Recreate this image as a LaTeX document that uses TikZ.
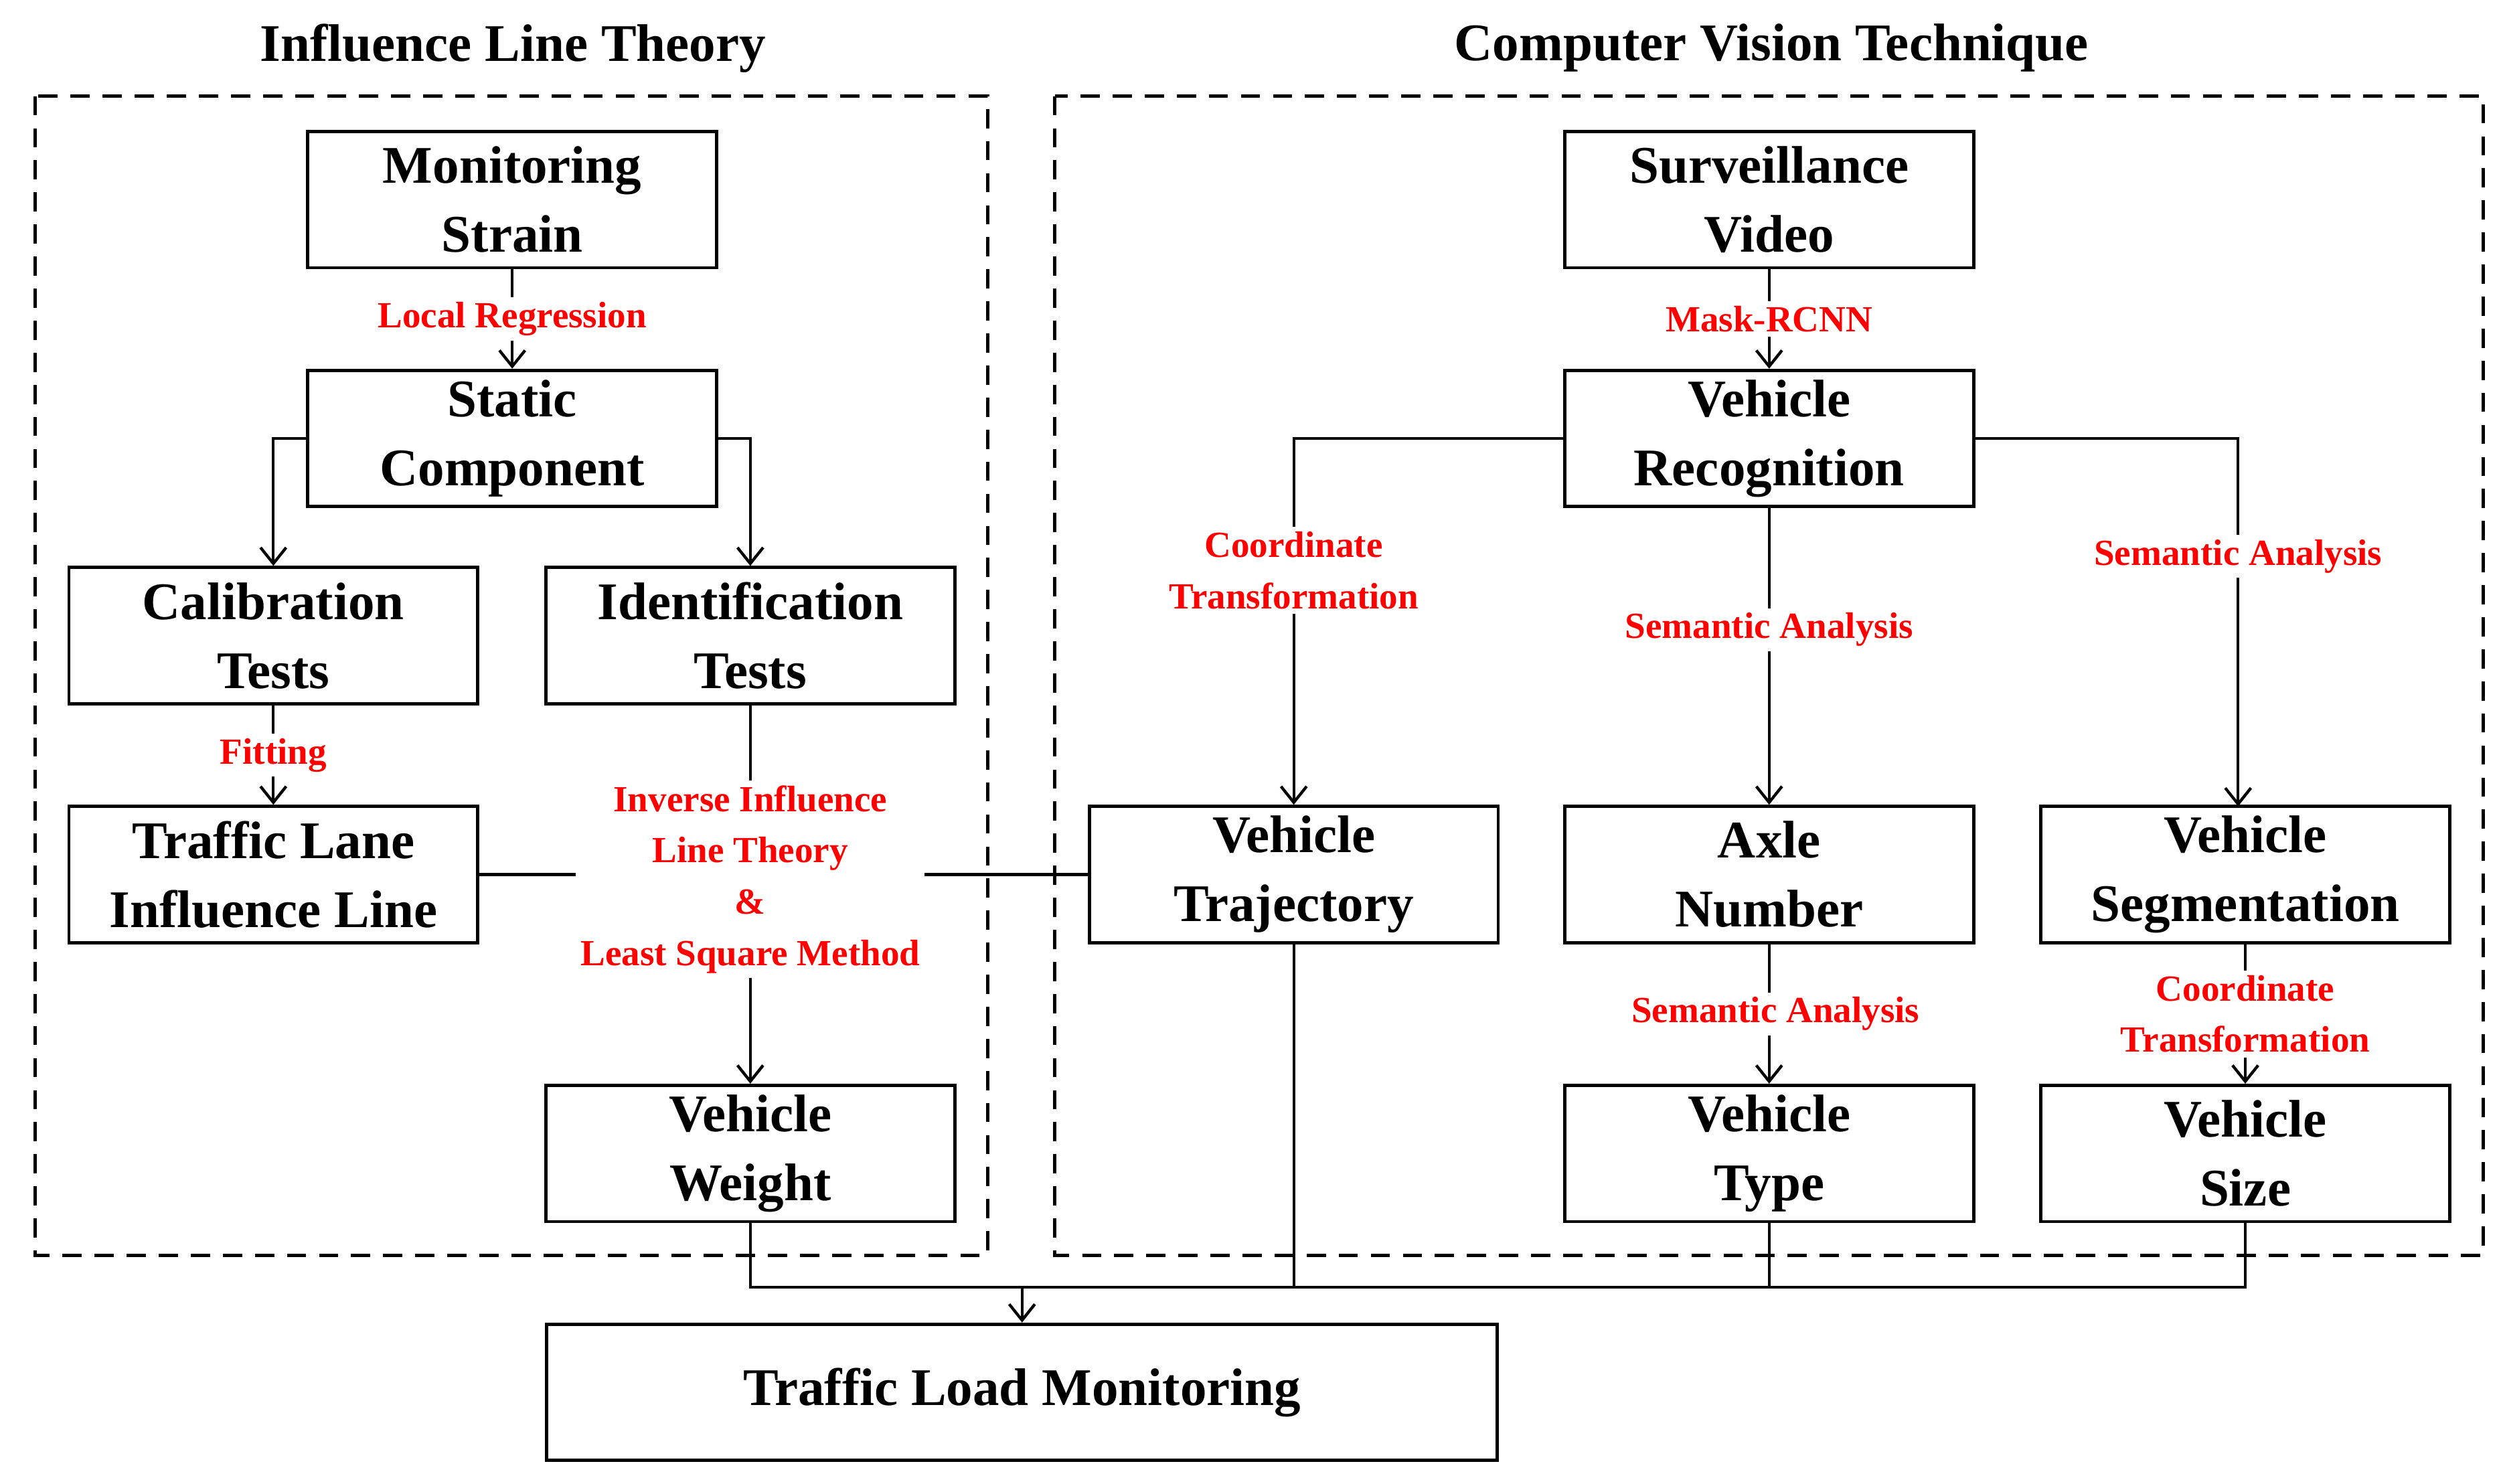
\documentclass[tikz,border=0pt]{standalone}
\usepackage{fontspec}
\setmainfont{Liberation Serif}
\usetikzlibrary{arrows.meta}
\begin{document}
\begin{tikzpicture}[x=0.5pt,y=-0.5pt,
 box/.style={draw,line width=1pt,minimum width=127.5pt,minimum height=42.5pt,align=center,font=\fontsize{16.5}{21.5}\selectfont\bfseries,inner sep=0pt},
 lab/.style={fill=white,text=red,align=center,font=\fontsize{11.5}{16}\selectfont\bfseries,inner sep=1.5pt},
 ln/.style={line width=0.9pt},
 ar/.style={ln,-{Straight Barb[length=5pt,width=8pt]}},
 dashbox/.style={draw,line width=1pt,dash pattern=on 6pt off 4pt}]
\useasboundingbox (0,0) rectangle (1560,925.7);
\draw[dashbox] (22,60) rectangle (616,783);
\draw[dashbox] (658,60) rectangle (1549,783);
\node[font=\fontsize{16.5}{20}\selectfont\bfseries] (t1) at (320,30) {Influence Line Theory};
\node[font=\fontsize{16.5}{20}\selectfont\bfseries] (t2) at (1105,30) {Computer Vision Technique};
\node[box] (ms) at (319.5,124.5) {Monitoring\\Strain};
\node[box] (sc) at (319.5,273.5) {Static\\Component};
\node[box] (ct) at (170.5,396.5) {Calibration\\Tests};
\node[box] (it) at (468,396.5) {Identification\\Tests};
\node[box] (tl) at (170.5,545.5) {Traffic Lane\\Influence Line};
\node[box] (vw) at (468,719.5) {Vehicle\\Weight};
\node[box] (sv) at (1103.5,124.5) {Surveillance\\Video};
\node[box] (vr) at (1103.5,273.5) {Vehicle\\Recognition};
\node[box] (vt) at (807,545.5) {Vehicle\\Trajectory};
\node[box] (an) at (1103.5,545.5) {Axle\\Number};
\node[box] (vs) at (1400.5,545.5) {Vehicle\\Segmentation};
\node[box] (vty) at (1103.5,719.5) {Vehicle\\Type};
\node[box] (vsz) at (1400.5,719.5) {Vehicle\\Size};
\node[box,minimum width=296.5pt] (tlm) at (637.5,868.5) {Traffic Load Monitoring};
\draw[ar] (ms) -- (sc) node[lab,midway] (l1) {Local Regression};
\draw[ar] (sc.west) -| (ct.north);
\draw[ar] (sc.east) -| (it.north);
\draw[ar] (ct) -- (tl) node[lab,midway] (l2) {Fitting};
\draw[ln] (tl.east) -- (vt.west);
\draw[ar] (it) -- (vw) node[lab,pos=0.46] (l3) {Inverse Influence\\Line Theory\\\&\\Least Square Method};
\draw[ar] (sv) -- (vr) node[lab,midway] (l4) {Mask-RCNN};
\draw[ar] (vr.west) -| (vt.north) node[lab,pos=0.68] (l5) {Coordinate\\Transformation};
\draw[ar] (vr) -- (an) node[lab,pos=0.41] (l6) {Semantic Analysis};
\draw[ar] (vr.east) -| (1396,503) node[lab,pos=0.66] (l7) {Semantic Analysis};
\draw[ar] (an) -- (vty) node[lab,midway,xshift=2pt] (l8) {Semantic Analysis};
\draw[ar] (vs) -- (vsz) node[lab,midway] (l9) {Coordinate\\Transformation};
\coordinate (b1) at (468,803);
\coordinate (b2) at (1400.5,803);
\draw[ln] (vw.south) -- (b1) -- (b2) -- (vsz.south);
\draw[ln] (vt.south) -- (807,803);
\draw[ln] (vty.south) -- (1103.5,803);
\draw[ar] (637.5,803) -- (tlm.north);
\end{tikzpicture}
\end{document}
